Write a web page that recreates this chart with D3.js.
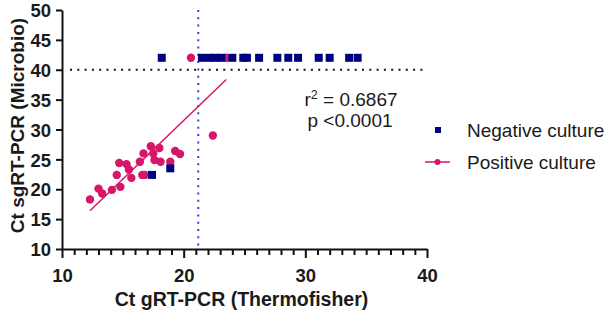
<!DOCTYPE html>
<html>
<head>
<meta charset="utf-8">
<script src="https://cdn.jsdelivr.net/npm/d3@7"></script>
<style>
  body { margin: 0; background: #fff; }
  text { font-family: "Liberation Sans", Arial, sans-serif; fill: #1a1a1a; }
</style>
</head>
<body>
<div id="chart"></div>
<script>
// Negative culture (navy squares)
const negX = [18.2, 21.5, 22.1, 22.6, 23.1, 24.0, 24.9, 25.2, 26.2, 27.7, 28.6, 29.4, 31.1, 32.0, 33.6, 34.3, 17.4, 18.9];
const negY = [42, 42, 42, 42, 42, 42, 42, 42, 42, 42, 42, 42, 42, 42, 42, 42, 22.4, 23.5];

// Positive culture (pink circles)
const posX = [12.3, 13.0, 13.3, 14.1, 14.8, 14.5, 14.7, 15.3, 15.5, 15.7, 16.4, 16.6, 16.8, 16.7, 17.3, 17.5, 17.6, 18.0, 18.1, 18.9, 19.3, 19.7, 22.4, 20.6, 23.5];
const posY = [18.3, 20.1, 19.3, 19.9, 20.4, 22.4, 24.4, 24.2, 23.3, 21.9, 24.6, 22.4, 22.4, 26.0, 27.2, 26.0, 24.9, 26.9, 24.6, 24.6, 26.4, 25.9, 29.0, 42, 42];

// Linear fit on positive cultures
const fitSlope = 1.96;
const fitIntercept = -7.7;
const fitRange = [12.3, 23.5];

// Cut-offs
const cutX = 21.2;
const cutY = 40;

const xTicks = [10, 20, 30, 40];
const xMinorTicks = d3.range(10, 41, 1);
const yTicks = [10, 15, 20, 25, 30, 35, 40, 45, 50];

const stats = ["0.6867", "p <0.0001"];
const legendLabels = ["Negative culture", "Positive culture"];

const navy = "#000080";
const pink = "#d6156b";

const width = 608, height = 314;
const margin = { top: 10, right: 181, bottom: 65, left: 62 };

const svg = d3.select('#chart').append('svg')
    .attr('width', width)
    .attr('height', height);

const x = d3.scaleLinear()
    .domain([10, 40])
    .range([margin.left, width - margin.right]);

const y = d3.scaleLinear()
    .domain([10, 50])
    .range([height - margin.bottom, margin.top]);

// Dotted cut-off lines
svg.append("line")
    .attr("x1", x(10) + 8).attr("x2", x(40))
    .attr("y1", y(cutY)).attr("y2", y(cutY))
    .attr("stroke", "#111")
    .attr("stroke-width", 2)
    .attr("stroke-dasharray", "2,5.3");

svg.append("line")
    .attr("x1", x(cutX)).attr("x2", x(cutX))
    .attr("y1", y(50)).attr("y2", y(10))
    .attr("stroke", "#2f3cff")
    .attr("stroke-width", 2)
    .attr("stroke-dasharray", "2,5.3");

// Regression line
svg.append("line")
    .attr("x1", x(fitRange[0])).attr("y1", y(fitIntercept + fitSlope * fitRange[0]))
    .attr("x2", x(fitRange[1])).attr("y2", y(fitIntercept + fitSlope * fitRange[1]))
    .attr("stroke", pink)
    .attr("stroke-width", 1.5);

// Points
svg.selectAll(".pos")
    .data(posX.map((v, i) => [v, posY[i]]))
    .enter().append("circle")
    .attr("class", "pos")
    .attr("cx", d => x(d[0]))
    .attr("cy", d => y(d[1]))
    .attr("r", 4.2)
    .attr("fill", pink);

svg.selectAll(".neg")
    .data(negX.map((v, i) => [v, negY[i]]))
    .enter().append("rect")
    .attr("class", "neg")
    .attr("x", d => x(d[0]) - 4)
    .attr("y", d => y(d[1]) - 4)
    .attr("width", 8)
    .attr("height", 8)
    .attr("fill", navy);

// Axes
const xAxis = svg.append("g")
    .attr("transform", `translate(0,${y(10)})`)
    .call(d3.axisBottom(x).tickValues(xTicks).tickFormat(d3.format("d")).tickSize(9).tickSizeOuter(0));

svg.append("g")
    .attr("transform", `translate(0,${y(10)})`)
    .call(d3.axisBottom(x).tickValues(xMinorTicks.filter(v => v % 10 !== 0)).tickFormat("").tickSize(6).tickSizeOuter(0))
    .call(g => g.select(".domain").remove());

const yAxis = svg.append("g")
    .attr("transform", `translate(${x(10)},0)`)
    .call(d3.axisLeft(y).tickValues(yTicks).tickFormat(d3.format("d")).tickSize(6).tickSizeOuter(0));

svg.selectAll(".domain, .tick line")
    .attr("stroke", "#111")
    .attr("stroke-width", 2);

xAxis.selectAll("text")
    .attr("dy", null)
    .attr("y", 33)
    .style("font-size", "18.5px")
    .style("font-weight", "bold");

yAxis.selectAll("text")
    .attr("x", -11)
    .attr("dy", "0.36em")
    .style("font-size", "18.5px")
    .style("font-weight", "bold");

// Axis titles
svg.append("text")
    .attr("x", x(25) - 3)
    .attr("y", 306)
    .attr("text-anchor", "middle")
    .style("font-size", "19.5px")
    .style("font-weight", "bold")
    .text("Ct gRT-PCR (Thermofisher)");

svg.append("text")
    .attr("transform", `translate(24,${y(30) - 4}) rotate(-90)`)
    .attr("text-anchor", "middle")
    .style("font-size", "19px")
    .style("font-weight", "bold")
    .text("Ct sgRT-PCR (Microbio)");

// r² and p
const r2 = svg.append("text")
    .attr("x", 351)
    .attr("y", 106)
    .attr("text-anchor", "middle")
    .style("font-size", "19px");
r2.append("tspan").text("r");
r2.append("tspan").attr("dy", -7).style("font-size", "12.5px").text("2");
r2.append("tspan").attr("dy", 7).text(" = " + stats[0]);

svg.append("text")
    .attr("x", 350)
    .attr("y", 127)
    .attr("text-anchor", "middle")
    .style("font-size", "19px")
    .text(stats[1]);

// Legend
svg.append("rect")
    .attr("x", 435).attr("y", 127)
    .attr("width", 6).attr("height", 6)
    .attr("fill", navy);

svg.append("line")
    .attr("x1", 425).attr("x2", 450)
    .attr("y1", 162).attr("y2", 162)
    .attr("stroke", pink)
    .attr("stroke-width", 1.5);

svg.append("circle")
    .attr("cx", 437.5).attr("cy", 162)
    .attr("r", 3)
    .attr("fill", pink);

svg.selectAll(".legend-label")
    .data(legendLabels)
    .enter().append("text")
    .attr("class", "legend-label")
    .attr("x", 467)
    .attr("y", (d, i) => 137 + i * 32)
    .style("font-size", "19px")
    .text(d => d);
</script>
</body>
</html>
